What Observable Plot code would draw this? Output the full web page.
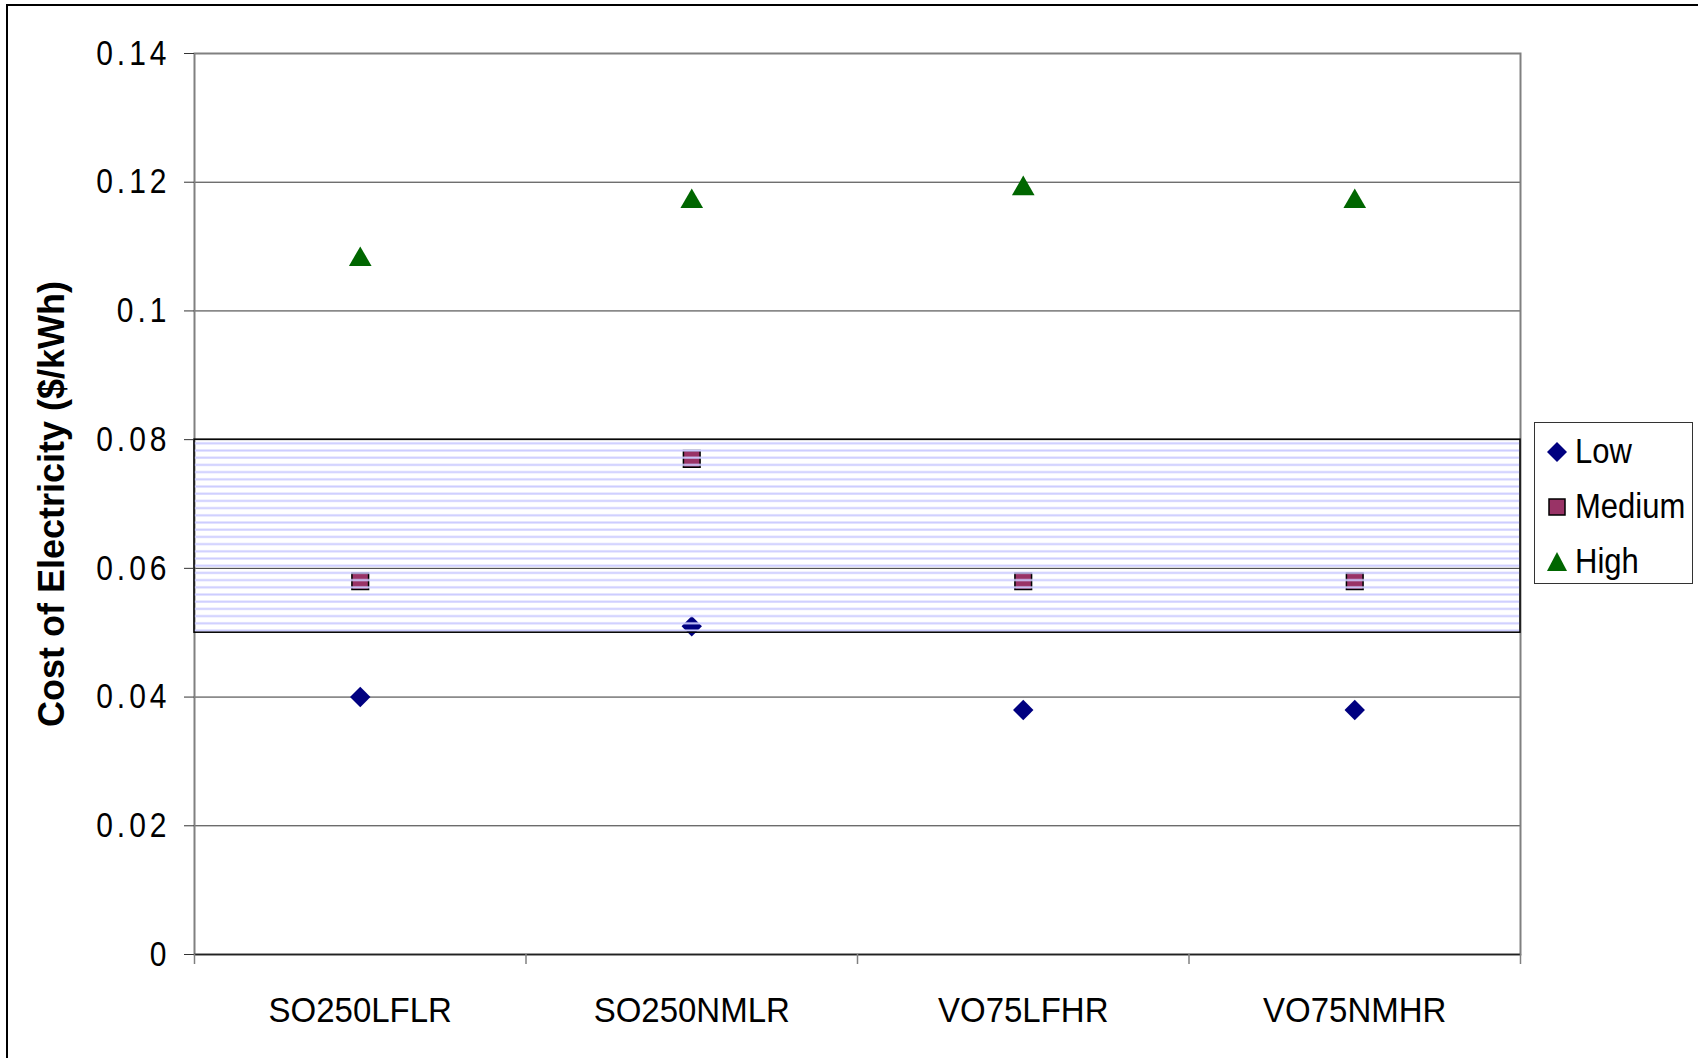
<!DOCTYPE html>
<html>
<head>
<meta charset="utf-8">
<script src="https://cdn.jsdelivr.net/npm/d3@7"></script>
<script src="https://cdn.jsdelivr.net/npm/@observablehq/plot@0.6"></script>
<style>
  html, body { margin: 0; padding: 0; background: #fff; }
  #wrap { position: relative; width: 1698px; height: 1058px; overflow: hidden; font-family: "Liberation Sans", Arial, sans-serif; }
  #outer { position: absolute; left: 6px; top: 4px; right: -10px; bottom: -10px; border-left: 2px solid #000; border-top: 2px solid #000; pointer-events: none; }
  #legend { position: absolute; left: 1534px; top: 422px; width: 159px; height: 162px; border: 1px solid #333; background: #fff; box-sizing: border-box; }
  .row { position: absolute; left: 0; height: 40px; display: flex; align-items: center; }
  .row svg { position: absolute; left: 10px; }
  .row span { position: absolute; left: 40px; font-size: 31px; color: #000; display: inline-block; transform: scaleY(1.12); white-space: nowrap; line-height: 40px; }
</style>
</head>
<body>
<div id="wrap">
  <div id="chart"></div>
  <div id="outer"></div>
  <div id="legend"></div>
</div>
<script>
// ---- data ----
const categories = ["SO250LFLR", "SO250NMLR", "VO75LFHR", "VO75NMHR"];
const seriesNames = ["Low", "Medium", "High"];
const lowValues = [0.040, 0.051, 0.038, 0.038];
const mediumValues = [0.058, 0.077, 0.058, 0.058];
const highValues = [0.108, 0.117, 0.119, 0.117];
const yTicks = [0, 0.02, 0.04, 0.06, 0.08, 0.10, 0.12, 0.14];
const bandLow = [0.05];
const bandHigh = [0.08];
const yLabel = "Cost of Electricity ($/kWh)";

const colors = { Low: "#000080", Medium: "#993366", High: "#006600" };

const rows = (vals, s) => vals.map((v, i) => ({ pos: i + 0.5, value: v, series: s, cat: categories[i] }));
const lowData = rows(lowValues, "Low");
const medData = rows(mediumValues, "Medium");
const highData = rows(highValues, "High");
const band = bandLow.map((lo, i) => ({ lo, hi: bandHigh[i] }));
const boundaries = d3.range(categories.length + 1);
const centers = categories.map((c, i) => i + 0.5);

const plot = Plot.plot({
  width: 1698,
  height: 1058,
  marginLeft: 194,
  marginRight: 178,
  marginTop: 53,
  marginBottom: 104,
  style: { fontFamily: "Liberation Sans, Arial, sans-serif", fontSize: "30px", background: "transparent", color: "#000" },
  x: { type: "linear", domain: [0, categories.length] },
  y: { domain: [0, 0.14] },
  marks: [
    Plot.gridY(yTicks, { stroke: "#333", strokeOpacity: 1, strokeWidth: 1 }),
    Plot.frame({ stroke: "#808080", strokeWidth: 2 }),
    Plot.dot(lowData, { x: "pos", y: "value", symbol: "diamond2", r: 9.2, fill: colors.Low, stroke: "none" }),
    Plot.dot(medData, { x: "pos", y: "value", symbol: "square", r: 9.4, fill: colors.Medium, stroke: "#000", strokeWidth: 1.5 }),
    Plot.dot(highData, { x: "pos", y: "value", symbol: "triangle", r: 8.4, fill: colors.High, stroke: "none" }),
    Plot.rect(band, { y1: "lo", y2: "hi", fill: "url(#stripes)", stroke: "#000", strokeWidth: 1.5 }),
    Plot.ruleY([0], { stroke: "#222", strokeWidth: 1.5 }),
    Plot.axisY({ ticks: yTicks, tickSize: 10, tickPadding: 14, tickFormat: d => String(+d.toFixed(2)), label: null, fontSize: 30, stroke: "#333" }),
    Plot.axisX({ ticks: boundaries, tickSize: 10, tickFormat: () => "", label: null, stroke: "#808080", strokeWidth: 1.5 }),
    Plot.axisX({ ticks: centers, tickSize: 0, tickPadding: 43, tickFormat: v => categories[Math.floor(v)], label: null, fontSize: 33 }),
    Plot.axisY({ ticks: [], tickSize: 0, label: yLabel, labelAnchor: "center", labelArrow: "none", labelOffset: 156, fontSize: 36, fontWeight: "bold" })
  ]
});

// stripe pattern for the highlighted band
const ns = "http://www.w3.org/2000/svg";
const defs = document.createElementNS(ns, "defs");
const pat = document.createElementNS(ns, "pattern");
pat.setAttribute("id", "stripes");
pat.setAttribute("patternUnits", "userSpaceOnUse");
pat.setAttribute("width", "20");
pat.setAttribute("height", "7.2");
const pr = document.createElementNS(ns, "rect");
pr.setAttribute("x", "0"); pr.setAttribute("y", "3.1");
pr.setAttribute("width", "20"); pr.setAttribute("height", "2");
pr.setAttribute("fill", "#ccccff");
pat.appendChild(pr);
defs.appendChild(pat);
plot.insertBefore(defs, plot.firstChild);

// tick labels are slightly vertically stretched in the reference
plot.querySelectorAll('g[aria-label="y-axis tick label"] text').forEach(t => {
  const tr = t.getAttribute("transform") || "";
  t.setAttribute("transform", tr + " scale(1,1.17)");
  t.style.letterSpacing = "4px";
});
plot.querySelectorAll('g[aria-label="x-axis tick label"] text').forEach(t => {
  const tr = t.getAttribute("transform") || "";
  t.setAttribute("transform", tr + " scale(1,1.05)");
});

document.getElementById("chart").appendChild(plot);

// legend
const legend = document.getElementById("legend");
const symSvg = {
  Low: '<svg width="24" height="24" viewBox="-12 -12 24 24"><path d="M0,-10L10,0L0,10L-10,0Z" fill="' + colors.Low + '"/></svg>',
  Medium: '<svg width="24" height="24" viewBox="-12 -12 24 24"><rect x="-8" y="-8" width="16" height="16" fill="' + colors.Medium + '" stroke="#000" stroke-width="1.5"/></svg>',
  High: '<svg width="24" height="24" viewBox="-12 -12 24 24"><path d="M0,-10L10,9L-10,9Z" fill="' + colors.High + '"/></svg>'
};
seriesNames.forEach((s, i) => {
  const r = document.createElement("div");
  r.className = "row";
  r.style.top = (9 + i * 55) + "px";
  r.style.width = "100%";
  r.innerHTML = symSvg[s] + "<span>" + s + "</span>";
  legend.appendChild(r);
});
</script>
</body>
</html>
